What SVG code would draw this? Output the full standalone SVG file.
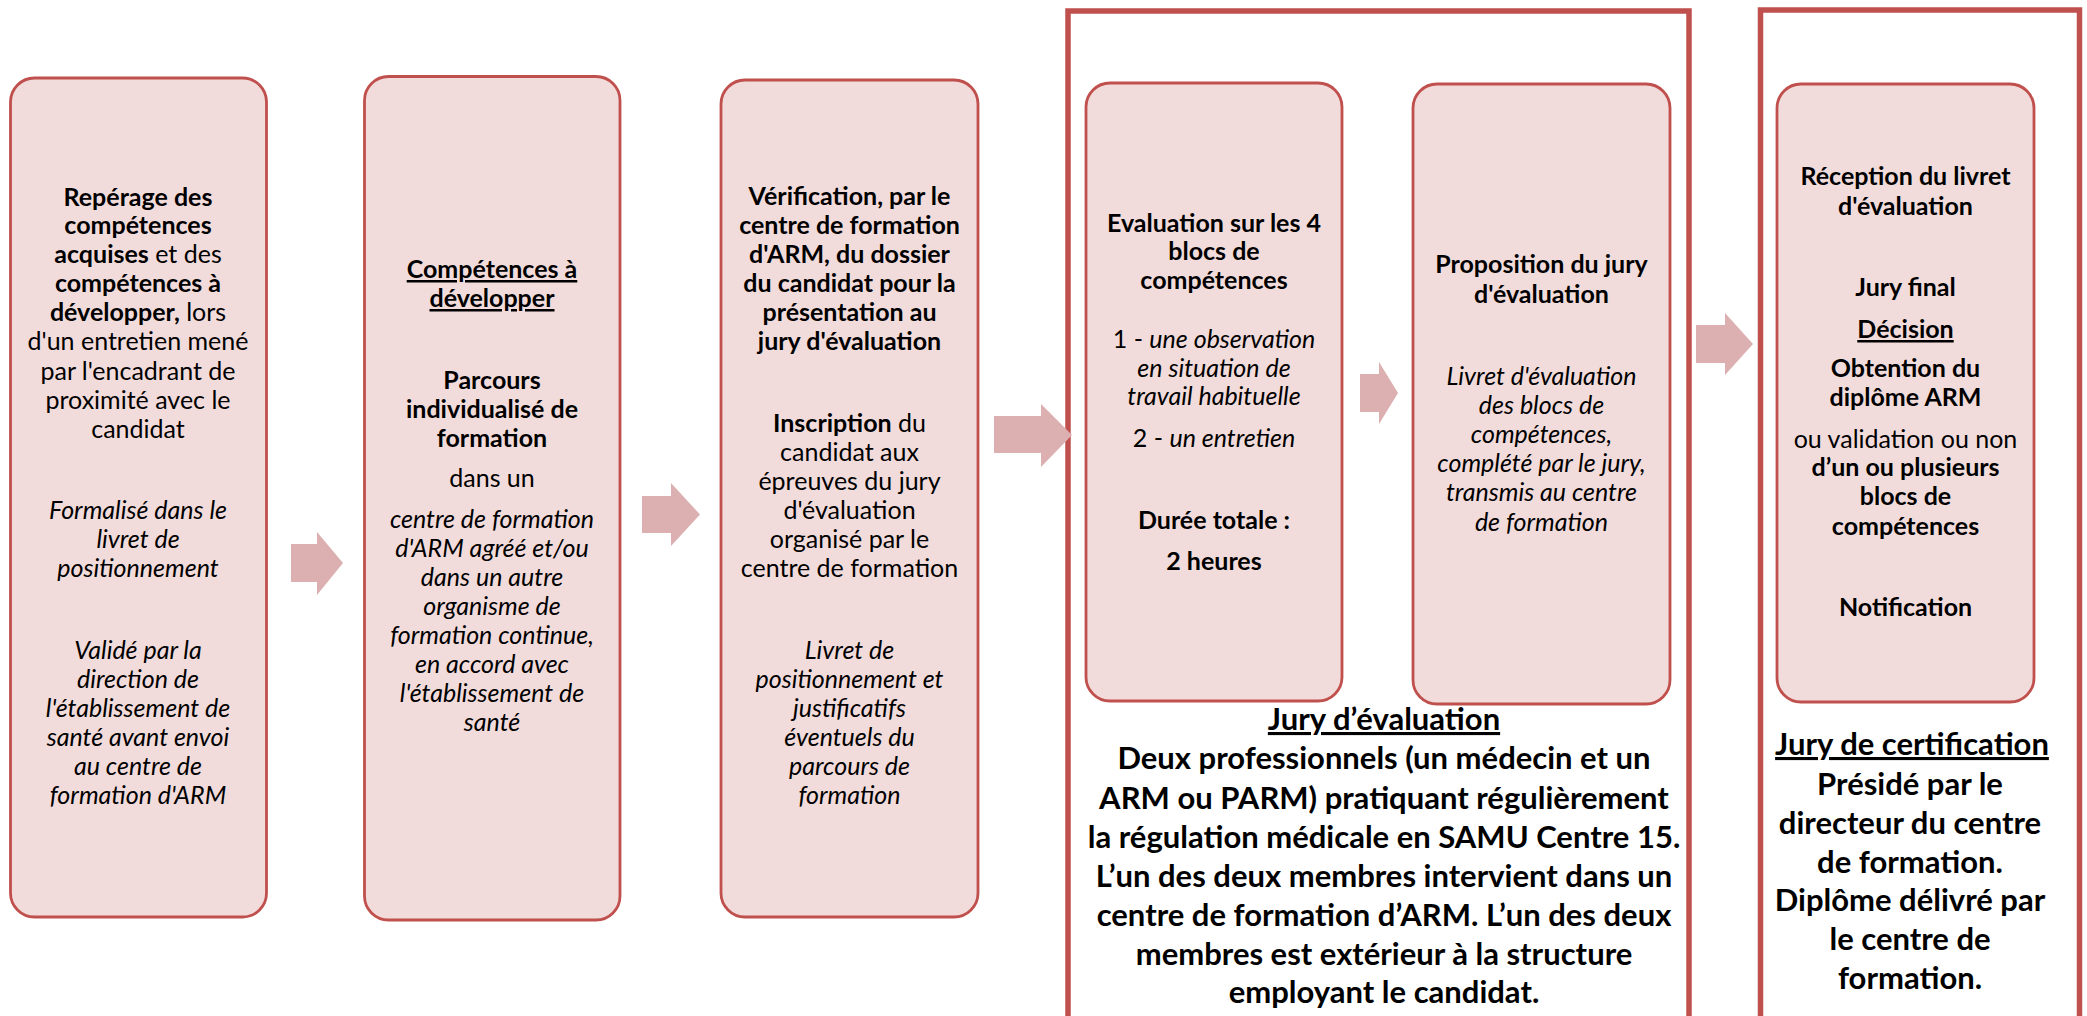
<svg xmlns="http://www.w3.org/2000/svg" width="2087" height="1016" viewBox="0 0 2087 1016">
<style>
.box{fill:#F2DCDB;stroke:#C0504D;stroke-width:2.8}
.frame{fill:none;stroke:#C0504D;stroke-width:5.5}
.arrow{fill:#DCB0B0}
text{font-family:Lato,"Liberation Sans",sans-serif;fill:#000;text-anchor:middle}
.t{font-size:25px}
.b{font-weight:bold}
.i{font-style:italic}
.u{text-decoration:underline}
.big{font-size:31px;font-weight:bold}
</style>
<rect width="2087" height="1016" fill="#fff"/>

<g id="frame-jury-evaluation">
<rect class="frame" x="1068" y="11" width="621" height="1040"/>
<text class="big u" x="1384" y="730">Jury d’évaluation</text>
<text class="big" x="1384" y="769">Deux professionnels (un médecin et un</text>
<text class="big" x="1384" y="809">ARM ou PARM) pratiquant régulièrement</text>
<text class="big" x="1384" y="848">la régulation médicale en SAMU Centre 15.</text>
<text class="big" x="1384" y="887">L’un des deux membres intervient dans un</text>
<text class="big" x="1384" y="926">centre de formation d’ARM. L’un des deux</text>
<text class="big" x="1384" y="965">membres est extérieur à la structure</text>
<text class="big" x="1384" y="1003">employant le candidat.</text>
</g>

<g id="frame-jury-certification">
<rect class="frame" x="1760.5" y="10" width="319" height="1040"/>
<text class="big u" x="1912" y="755">Jury de certification</text>
<text class="big" x="1910" y="795">Présidé par le</text>
<text class="big" x="1910" y="834">directeur du centre</text>
<text class="big" x="1910" y="873">de formation.</text>
<text class="big" x="1910" y="911">Diplôme délivré par</text>
<text class="big" x="1910" y="950">le centre de</text>
<text class="big" x="1910" y="989">formation.</text>
</g>

<g id="connectors">
<polygon class="arrow" points="291,544 317,544 317,532 343,563 317,595 317,582 291,582"/>
<polygon class="arrow" points="642,496 671,496 671,483 700,514.5 671,546 671,533 642,533"/>
<polygon class="arrow" points="994,416 1041,416 1041,404 1072,435 1041,467 1041,453 994,453"/>
<polygon class="arrow" points="1360,374 1379,374 1379,362 1398,393 1379,424 1379,412 1360,412"/>
<polygon class="arrow" points="1696,325 1725,325 1725,313 1753,344 1725,375 1725,363 1696,363"/>
</g>

<g id="node-reperage">
<rect class="box" x="10.5" y="78" width="256" height="839" rx="24"/>
<text class="t b" x="138" y="206">Repérage des</text>
<text class="t b" x="138" y="234">compétences</text>
<text class="t" x="138" y="263"><tspan class="b">acquises</tspan> et des</text>
<text class="t b" x="138" y="292">compétences à</text>
<text class="t" x="138" y="321"><tspan class="b">développer,</tspan> lors</text>
<text class="t" x="138" y="350">d'un entretien mené</text>
<text class="t" x="138" y="380">par l'encadrant de</text>
<text class="t" x="138" y="409">proximité avec le</text>
<text class="t" x="138" y="438">candidat</text>
<text class="t i" x="138" y="519">Formalisé dans le</text>
<text class="t i" x="138" y="548">livret de</text>
<text class="t i" x="138" y="577">positionnement</text>
<text class="t i" x="138" y="659">Validé par la</text>
<text class="t i" x="138" y="688">direction de</text>
<text class="t i" x="138" y="717">l'établissement de</text>
<text class="t i" x="138" y="746">santé avant envoi</text>
<text class="t i" x="138" y="775">au centre de</text>
<text class="t i" x="138" y="804">formation d'ARM</text>
</g>

<g id="node-parcours">
<rect class="box" x="364.5" y="76.5" width="255.5" height="843.5" rx="24"/>
<text class="t b u" x="492" y="278">Compétences à</text>
<text class="t b u" x="492" y="307">développer</text>
<text class="t b" x="492" y="389">Parcours</text>
<text class="t b" x="492" y="418">individualisé de</text>
<text class="t b" x="492" y="447">formation</text>
<text class="t" x="492" y="487">dans un</text>
<text class="t i" x="492" y="528">centre de formation</text>
<text class="t i" x="492" y="557">d'ARM agréé et/ou</text>
<text class="t i" x="492" y="586">dans un autre</text>
<text class="t i" x="492" y="615">organisme de</text>
<text class="t i" x="492" y="644">formation continue,</text>
<text class="t i" x="492" y="673">en accord avec</text>
<text class="t i" x="492" y="702">l'établissement de</text>
<text class="t i" x="492" y="731">santé</text>
</g>

<g id="node-verification">
<rect class="box" x="721" y="80" width="257" height="837" rx="24"/>
<text class="t b" x="849.5" y="205">Vérification, par le</text>
<text class="t b" x="849.5" y="234">centre de formation</text>
<text class="t b" x="849.5" y="263">d'ARM, du dossier</text>
<text class="t b" x="849.5" y="292">du candidat pour la</text>
<text class="t b" x="849.5" y="321">présentation au</text>
<text class="t b" x="849.5" y="350">jury d'évaluation</text>
<text class="t" x="849.5" y="432"><tspan class="b">Inscription</tspan> du</text>
<text class="t" x="849.5" y="461">candidat aux</text>
<text class="t" x="849.5" y="490">épreuves du jury</text>
<text class="t" x="849.5" y="519">d'évaluation</text>
<text class="t" x="849.5" y="548">organisé par le</text>
<text class="t" x="849.5" y="577">centre de formation</text>
<text class="t i" x="849.5" y="659">Livret de</text>
<text class="t i" x="849.5" y="688">positionnement et</text>
<text class="t i" x="849.5" y="717">justificatifs</text>
<text class="t i" x="849.5" y="746">éventuels du</text>
<text class="t i" x="849.5" y="775">parcours de</text>
<text class="t i" x="849.5" y="804">formation</text>
</g>

<g id="node-evaluation">
<rect class="box" x="1086" y="83" width="256" height="618" rx="24"/>
<text class="t b" x="1214" y="232">Evaluation sur les 4</text>
<text class="t b" x="1214" y="260">blocs de</text>
<text class="t b" x="1214" y="289">compétences</text>
<text class="t" x="1214" y="348">1 - <tspan class="i">une observation</tspan></text>
<text class="t i" x="1214" y="377">en situation de</text>
<text class="t i" x="1214" y="405">travail habituelle</text>
<text class="t" x="1214" y="447">2 - <tspan class="i">un entretien</tspan></text>
<text class="t b" x="1214" y="529">Durée totale :</text>
<text class="t b" x="1214" y="570">2 heures</text>
</g>

<g id="node-proposition">
<rect class="box" x="1413" y="84" width="257" height="620" rx="24"/>
<text class="t b" x="1541.5" y="273">Proposition du jury</text>
<text class="t b" x="1541.5" y="303">d'évaluation</text>
<text class="t i" x="1541.5" y="385">Livret d'évaluation</text>
<text class="t i" x="1541.5" y="414">des blocs de</text>
<text class="t i" x="1541.5" y="443">compétences,</text>
<text class="t i" x="1541.5" y="472">complété par le jury,</text>
<text class="t i" x="1541.5" y="501">transmis au centre</text>
<text class="t i" x="1541.5" y="531">de formation</text>
</g>

<g id="node-final">
<rect class="box" x="1777" y="84" width="257" height="618" rx="24"/>
<text class="t b" x="1905.5" y="185">Réception du livret</text>
<text class="t b" x="1905.5" y="215">d'évaluation</text>
<text class="t b" x="1905.5" y="296">Jury final</text>
<text class="t b u" x="1905.5" y="338">Décision</text>
<text class="t b" x="1905.5" y="377">Obtention du</text>
<text class="t b" x="1905.5" y="406">diplôme ARM</text>
<text class="t" x="1905.5" y="448">ou validation ou non</text>
<text class="t b" x="1905.5" y="476">d’un ou plusieurs</text>
<text class="t b" x="1905.5" y="505">blocs de</text>
<text class="t b" x="1905.5" y="535">compétences</text>
<text class="t b" x="1905.5" y="616">Notification</text>
</g>
</svg>
